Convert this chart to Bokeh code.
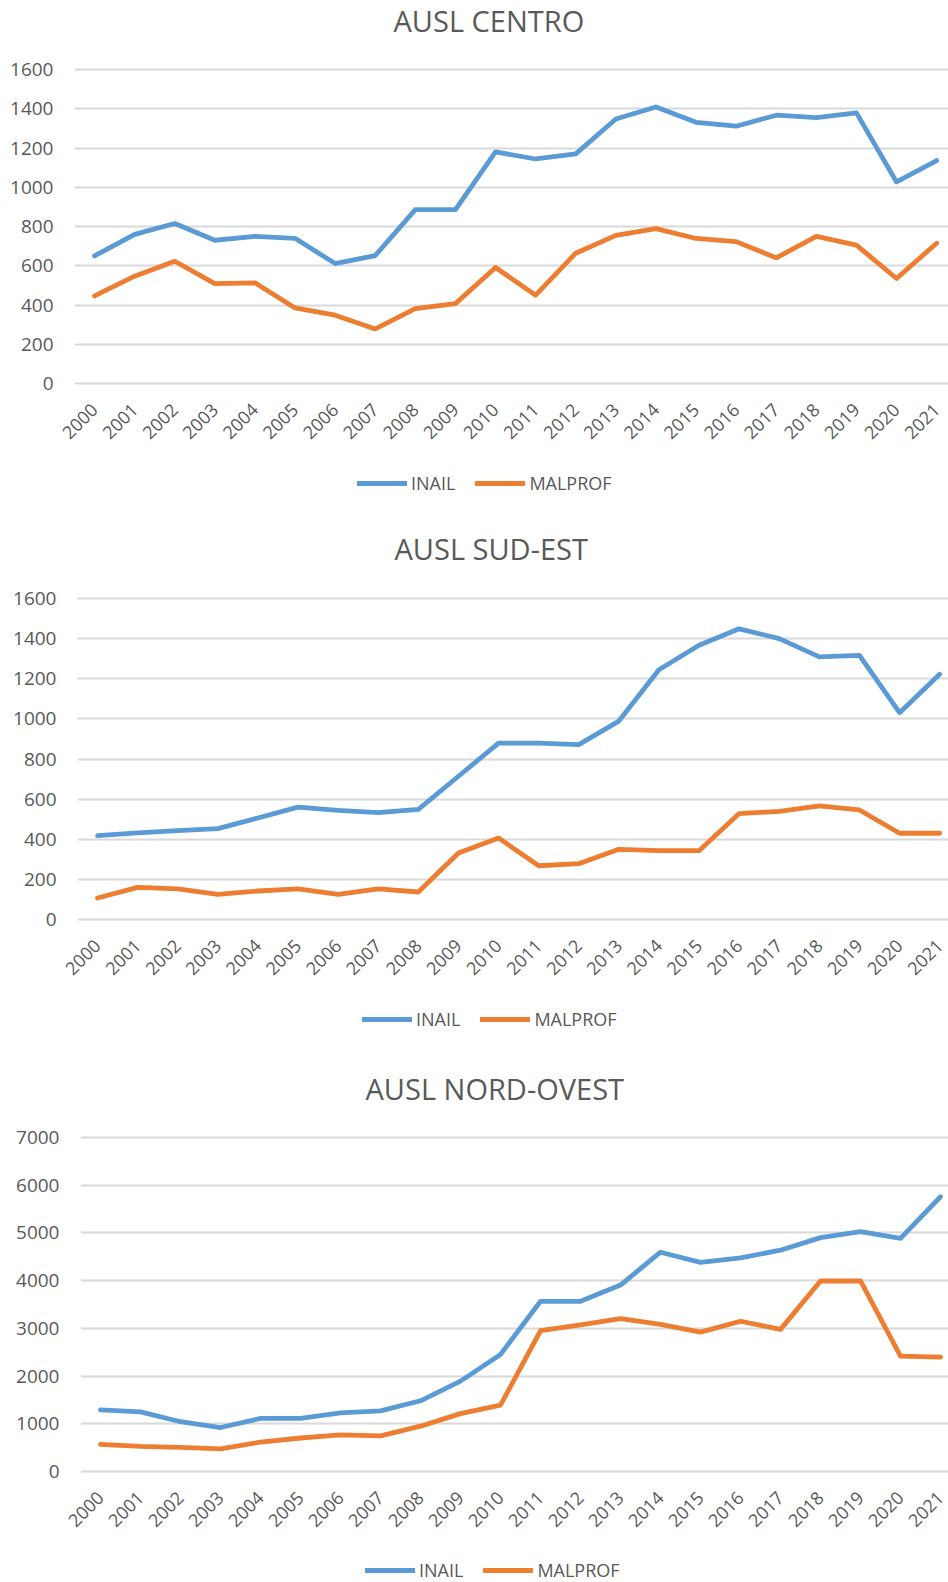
from bokeh.plotting import figure
from bokeh.models import Range1d, Legend, LegendItem, SingleIntervalTicker, FixedTicker, ColumnDataSource
from bokeh.layouts import column
from bokeh.embed import file_html
from bokeh.resources import INLINE
import math

years = list(range(2000, 2022))

centro_inail = [650, 760, 815, 730, 750, 740, 611, 652, 886, 886, 1180, 1144, 1170, 1348, 1409, 1331, 1311, 1367, 1355, 1379, 1027, 1136]
centro_malprof = [446, 547, 623, 509, 513, 385, 348, 278, 382, 407, 591, 450, 664, 755, 789, 739, 723, 640, 750, 705, 535, 715]

sudest_inail = [418, 432, 443, 453, 506, 560, 544, 533, 549, 714, 879, 879, 872, 989, 1245, 1367, 1449, 1400, 1309, 1317, 1031, 1222]
sudest_malprof = [107, 160, 153, 125, 142, 153, 125, 153, 137, 331, 406, 268, 278, 350, 343, 343, 528, 539, 566, 546, 430, 430]

nordovest_inail = [1291, 1248, 1043, 922, 1113, 1113, 1227, 1270, 1482, 1894, 2454, 3567, 3567, 3908, 4596, 4383, 4475, 4638, 4901, 5028, 4887, 5759]
nordovest_malprof = [567, 525, 504, 475, 617, 702, 766, 745, 950, 1213, 1390, 2950, 3071, 3206, 3085, 2922, 3149, 2979, 3993, 3993, 2418, 2397]

titles = ["AUSL CENTRO", "AUSL SUD-EST", "AUSL NORD-OVEST"]
series_names = ["INAIL", "MALPROF"]

BLUE = "#5B9BD5"
ORANGE = "#ED7D31"
GRAY = "#595959"
GRID = "#D9D9D9"
FONT = "Open Sans"
W = 948
PAD = 3          # px of frame kept above top / below zero gridline
TITLE_H = 46


def strip(height, left):
    s = figure(width=W, height=height, x_range=Range1d(0, 1), y_range=Range1d(0, 1),
               output_backend="svg", toolbar_location=None, outline_line_color=None,
               min_border_left=left, min_border_right=0, min_border_top=0, min_border_bottom=0)
    s.axis.visible = False
    s.grid.grid_line_color = None
    return s


def make_chart(title, inail, malprof, ymax, ystep, title_left, main_h, top, bot, left, step_px,
               leg_h, leg_left):
    # title strip (frames in a column are aligned, so positions are relative to `left`)
    t = strip(TITLE_H, left)
    t.title.text = title
    t.title.align = "left"
    t.title.offset = title_left - left
    t.title.vertical_align = "top"
    t.title.standoff = 0
    t.title.text_font = FONT
    t.title.text_font_size = "29px"
    t.title.text_font_style = "normal"
    t.title.text_color = GRAY

    # main chart
    ft = bot - top
    u = ymax / ft
    x_end = 1999.5 + (W - left) / step_px
    p = figure(width=W, height=main_h, x_range=Range1d(1999.5, x_end),
               y_range=Range1d(-PAD * u, ymax + PAD * u), output_backend="svg", toolbar_location=None,
               min_border_left=left, min_border_right=0, min_border_top=top - PAD,
               min_border_bottom=main_h - bot - PAD, outline_line_color=None)

    src = ColumnDataSource(dict(x=years, inail=inail, malprof=malprof))
    p.line("x", "inail", source=src, line_color=BLUE, line_width=4.8, line_join="round", line_cap="round")
    p.line("x", "malprof", source=src, line_color=ORANGE, line_width=4.8, line_join="round", line_cap="round")

    p.yaxis.ticker = SingleIntervalTicker(interval=ystep)
    p.xaxis.ticker = FixedTicker(ticks=years)
    for ax in (p.xaxis[0], p.yaxis[0]):
        ax.axis_line_color = None
        ax.major_tick_line_color = None
        ax.minor_tick_line_color = None
        ax.major_tick_out = 0
        ax.major_tick_in = 0
        ax.minor_tick_out = 0
        ax.minor_tick_in = 0
        ax.major_label_text_font = FONT
        ax.major_label_text_color = GRAY
    p.yaxis.major_label_text_font_size = "19px"
    p.xaxis.major_label_text_font_size = "18px"
    p.yaxis.major_label_standoff = 21
    p.xaxis.major_label_orientation = math.pi / 4
    p.xaxis.major_label_standoff = 20
    p.xgrid.grid_line_color = None
    p.ygrid.grid_line_color = GRID
    p.ygrid.grid_line_width = 2

    # legend strip
    lg = strip(leg_h, left)
    r1 = lg.line(x=[5, 6], y=[5, 6], line_color=BLUE, line_width=5, line_cap="round")
    r2 = lg.line(x=[5, 6], y=[5, 6], line_color=ORANGE, line_width=5, line_cap="round")
    legend = Legend(items=[LegendItem(label=series_names[0], renderers=[r1]),
                           LegendItem(label=series_names[1], renderers=[r2])],
                    orientation="horizontal", location=(leg_left - left - 3, max(leg_h - 32, 0)),
                    border_line_color=None, background_fill_alpha=0,
                    label_text_font=FONT, label_text_font_size="18px", label_text_color=GRAY,
                    glyph_width=50, spacing=20, label_standoff=4, margin=0, padding=6)
    lg.add_layout(legend)
    return column(t, p, lg, spacing=0)


c1 = make_chart(titles[0], centro_inail, centro_malprof, 1600, 200, 393, 417, 23, 337, 74, 40.1, 65, 360)
c2 = make_chart(titles[1], sudest_inail, sudest_malprof, 1600, 200, 394, 425, 24, 345, 77, 40.1, 69, 365)
c3 = make_chart(titles[2], nordovest_inail, nordovest_malprof, 7000, 1000, 365, 437, 23, 357, 80, 40.0, 31, 368)

layout = column(c1, c2, c3, spacing=0)
open("out.html", "w").write(file_html(layout, INLINE))
